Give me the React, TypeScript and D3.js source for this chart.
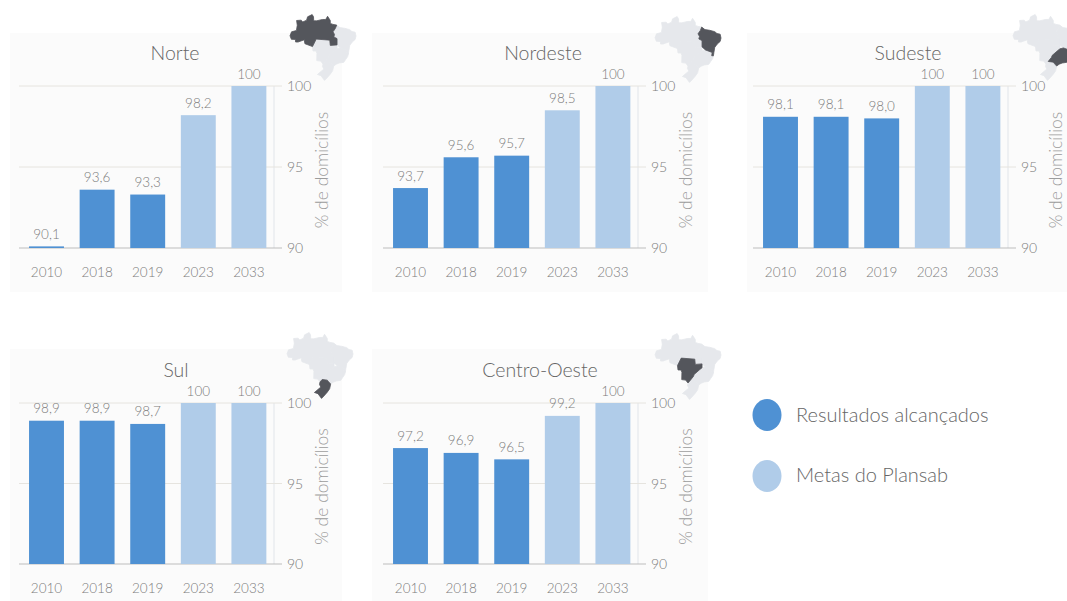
import React from "react";
import * as d3 from "d3";

const years = ["2010", "2018", "2019", "2023", "2033"];
const norte = [90.1, 93.6, 93.3, 98.2, 100];
const nordeste = [93.7, 95.6, 95.7, 98.5, 100];
const sudeste = [98.1, 98.1, 98.0, 100, 100];
const sul = [98.9, 98.9, 98.7, 100, 100];
const centroOeste = [97.2, 96.9, 96.5, 99.2, 100];
const yTicks = [90, 95, 100];
const achievedYears = ["2010", "2018", "2019"];
const legendLabels = ["Resultados alcançados", "Metas do Plansab"];

// Simplified region outlines of Brazil, as [longitude, latitude].
const shapeNorte: [number, number][] = [
  [-73.8, -7.3], [-72.9, -5], [-70, -4.2], [-69.5, -1.1], [-69.9, 1.7], [-67.2, 1.9], [-66.3, 0.8], [-64, 1.9],
  [-63.4, 3.9], [-60.7, 5.2], [-59.9, 3.9], [-59.8, 1.5], [-58, 1.5], [-56.5, 1.9], [-54.6, 2.3], [-52.7, 2.3],
  [-51.6, 4.2], [-50, 1.7], [-50, 0], [-48.4, -0.6], [-46.2, -1], [-47, -3], [-48.4, -5], [-47.5, -6.5],
  [-47.9, -8], [-46, -9], [-46, -12.7], [-50, -13], [-50.3, -9.9], [-58.3, -9.3], [-60.5, -13.7], [-65, -12],
  [-65.4, -9.7], [-69, -11], [-70.5, -11], [-70.6, -9.5], [-73, -9.4],
];
const shapeNordeste: [number, number][] = [
  [-46.2, -1], [-44.3, -2.5], [-41.5, -2.9], [-38.5, -3.7], [-37.2, -4.8], [-35.3, -5.2], [-34.8, -7.5],
  [-35.3, -9.5], [-37, -11], [-38.5, -13], [-39, -16], [-39.3, -18], [-40.3, -17.9], [-40, -16], [-44, -14.5],
  [-46, -12.7], [-46, -9], [-47.9, -8], [-47.5, -6.5], [-48.4, -5], [-47, -3],
];
const shapeSudeste: [number, number][] = [
  [-39.3, -18], [-39.7, -19.6], [-41, -21.5], [-42, -23], [-44.7, -23.4], [-46.5, -24.1], [-48, -25.2],
  [-49.2, -23.9], [-50, -22.9], [-53, -22.5], [-51, -20], [-50.7, -19], [-47.3, -16], [-46, -15], [-44, -14.5],
  [-40, -16], [-40.3, -17.9],
];
const shapeSul: [number, number][] = [
  [-48, -25.2], [-48.6, -28], [-50, -30], [-52, -32.3], [-53.4, -33.7], [-55.5, -30.9], [-57.6, -30.2],
  [-53.8, -27], [-54.6, -25.5], [-54.3, -24], [-53, -22.5], [-50, -22.9], [-49.2, -23.9],
];
const shapeCentroOeste: [number, number][] = [
  [-60.5, -13.7], [-58.3, -9.3], [-50.3, -9.9], [-50, -13], [-46, -12.7], [-46, -15], [-47.3, -16], [-50.7, -19],
  [-51, -20], [-53, -22.5], [-54.3, -24], [-55.7, -22.3], [-58, -22], [-57.9, -17.7], [-58.4, -16.3], [-60.2, -16.3],
];
const allShapes = [shapeNorte, shapeNordeste, shapeSudeste, shapeSul, shapeCentroOeste];

const FONT = "Lato, 'Open Sans', sans-serif";
const TEXT = "#7c7c7c";
const AXIS_TITLE = "#9c9c9c";
const ACHIEVED = "#4f91d3";
const TARGET = "#b0cce9";

const asPolygon = (ring: [number, number][]) => ({
  type: "Polygon" as const,
  coordinates: [[...ring, ring[0]]],
});

function RegionMap({ x, y, w, h, shape }: { x: number; y: number; w: number; h: number; shape: [number, number][] }) {
  const collection = {
    type: "FeatureCollection" as const,
    features: allShapes.map((s) => ({ type: "Feature" as const, properties: {}, geometry: asPolygon(s) })),
  };
  const projection = d3.geoIdentity().reflectY(true).fitSize([w, h], collection as any);
  const path = d3.geoPath(projection);
  return (
    <g transform={`translate(${x},${y})`}>
      {allShapes.filter((s) => s !== shape).map((s, i) => (
        <path key={i} d={path(asPolygon(s) as any) ?? ""} fill="#e6e8ec" stroke="#e6e8ec" strokeWidth={0.8} />
      ))}
      <path d={path(asPolygon(shape) as any) ?? ""} fill="#54565c" stroke="#54565c" strokeWidth={0.8} />
    </g>
  );
}

type PanelProps = {
  title: string;
  values: number[];
  shape: [number, number][];
  dx: number;
  y100: number;
  y90: number;
  box: [number, number, number, number];
  titleX: number;
  mapX: number;
  mapY: number;
};

function Panel({ title, values, shape, dx, y100, y90, box, titleX, mapX, mapY }: PanelProps) {
  const x = d3.scaleBand<string>().domain(years).range([dx + 21.2, dx + 274.2]).paddingInner(0.31).paddingOuter(0.155);
  const y = d3.scaleLinear().domain([90, 100]).range([y90, y100]);
  const label = (v: number) => (v === 100 ? "100" : v.toFixed(1).replace(".", ","));
  return (
    <g fontFamily={FONT} fontWeight={300} fill={TEXT}>
      <rect x={box[0]} y={box[1]} width={box[2]} height={box[3]} fill="#fbfbfb" />
      <RegionMap x={mapX} y={mapY} w={66} h={69} shape={shape} />
      <line x1={dx + 274} x2={dx + 274} y1={y(100)} y2={y(90)} stroke="#e1e5ea" />
      {yTicks.map((t) => (
        <g key={t}>
          <line x1={dx + 19} x2={dx + 282} y1={y(t)} y2={y(t)} stroke={t === 90 ? "#bdbdbd" : "#e6e4df"} />
          <text x={dx + 287} y={y(t) + 5} fontSize={14}>{t}</text>
        </g>
      ))}
      {years.map((yr, i) => (
        <g key={yr}>
          <rect
            x={x(yr)}
            y={y(values[i])}
            width={x.bandwidth()}
            height={y(90) - y(values[i])}
            fill={achievedYears.includes(yr) ? ACHIEVED : TARGET}
          />
          <text x={x(yr)! + x.bandwidth() / 2} y={y(values[i]) - 7.5} textAnchor="middle" fontSize={13.5}>
            {label(values[i])}
          </text>
          <text x={x(yr)! + x.bandwidth() / 2} y={y(90) + 29} textAnchor="middle" fontSize={13.5}>{yr}</text>
        </g>
      ))}
      <text x={titleX} y={y(100) - 26} textAnchor="middle" fontSize={19.5} fill="#666">{title}</text>
      <text
        transform={`translate(${dx + 328},${(y(100) + y(90)) / 2 + 3}) rotate(-90)`}
        textAnchor="middle"
        fontSize={17.5}
        fill={AXIS_TITLE}
      >
        % de domicílios
      </text>
    </g>
  );
}

export default function App() {
  return (
    <svg width={1067} height={601} style={{ position: "absolute", left: 0, top: 0, background: "#fff" }}>
      <Panel title="Norte" values={norte} shape={shapeNorte} dx={0} y100={86} y90={248} box={[10, 33, 332, 259]} titleX={175} mapX={290} mapY={13} />
      <Panel title="Nordeste" values={nordeste} shape={shapeNordeste} dx={364} y100={86} y90={248} box={[372, 33, 336, 259]} titleX={543} mapX={655} mapY={15} />
      <Panel title="Sudeste" values={sudeste} shape={shapeSudeste} dx={734} y100={86} y90={248} box={[747, 33, 320, 259]} titleX={908} mapX={1013} mapY={13} />
      <Panel title="Sul" values={sul} shape={shapeSul} dx={0} y100={403} y90={564} box={[10, 349, 332, 252]} titleX={176} mapX={287} mapY={331} />
      <Panel title="Centro-Oeste" values={centroOeste} shape={shapeCentroOeste} dx={364} y100={403} y90={564} box={[372, 349, 336, 252]} titleX={540} mapX={655} mapY={332} />
      <g fontFamily={FONT} fontWeight={300} fontSize={20} fill="#666">
        {legendLabels.map((l, i) => (
          <g key={l}>
            <ellipse cx={767} cy={415 + i * 61} rx={14.5} ry={16} fill={i === 0 ? ACHIEVED : TARGET} />
            <text x={796} y={422 + i * 60}>{l}</text>
          </g>
        ))}
      </g>
    </svg>
  );
}
